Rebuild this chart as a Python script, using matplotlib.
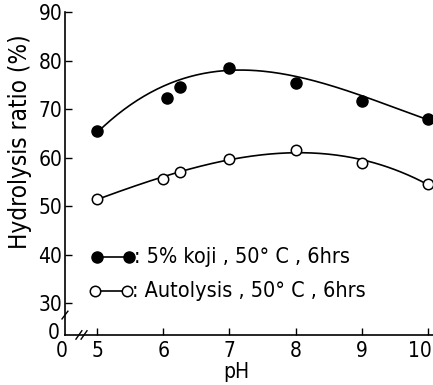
import numpy as np
import matplotlib
matplotlib.use("Agg")
import matplotlib.pyplot as plt
import matplotlib.transforms as mtransforms

# data
ph_koji = [5, 6.05, 6.25, 7, 8, 9, 10]
koji = [65.5, 72.3, 74.7, 78.6, 75.5, 71.8, 68.0]
ph_auto = [5, 6, 6.25, 7, 8, 9, 10]
auto = [51.6, 55.7, 57.1, 59.8, 61.6, 59.0, 54.7]

xticks = [5, 6, 7, 8, 9, 10]
yticks = [30, 40, 50, 60, 70, 80, 90]

plt.rcParams['font.family'] = ['DejaVu Sans']
plt.rcParams['font.stretch'] = 'condensed'

fig = plt.figure(figsize=(4.33, 3.85), dpi=100)
ax = fig.add_axes([0.150, 0.130, 0.85, 0.838])

x0, x1 = 4.51, 10.08
y0, y1 = 23.5, 90
ax.set_xlim(x0, x1)
ax.set_ylim(y0, y1)

# smooth trend curves fitted to the points
xs = np.linspace(5, 10, 200)
ck = np.polyfit(ph_koji, koji, 3, w=[2, 1, 1, 3, 1, 1, 2])
ca = np.polyfit(ph_auto, auto, 3)
ax.plot(xs, np.polyval(ck, xs), color='black', lw=1.2, zorder=2)
ax.plot(xs, np.polyval(ca, xs), color='black', lw=1.2, zorder=2)

ax.plot(ph_koji, koji, 'o', ms=8, color='black', zorder=3)
ax.plot(ph_auto, auto, 'o', ms=7.5, mfc='white', mec='black', mew=1.1, zorder=3)

# legend drawn inside the axes
ax.plot([5, 5.48], [39.6, 39.6], '-o', color='black', ms=8, lw=1.2)
ax.text(5.55, 39.6, ': 5% koji , 50° C , 6hrs', fontsize=15.5, va='center', ha='left')
ax.plot([4.97, 5.45], [32.6, 32.6], '-o', color='black', mfc='white', mew=1.1, ms=7.5, lw=1.2)
ax.text(5.52, 32.6, ': Autolysis , 50° C , 6hrs', fontsize=15.5, va='center', ha='left')

ax.spines['top'].set_visible(False)
ax.spines['right'].set_visible(False)
ax.spines['left'].set_linewidth(1.2)
ax.spines['bottom'].set_linewidth(1.2)

ax.set_xticks(xticks)
ax.set_yticks(yticks)
ax.tick_params(direction='in', length=5, width=1, labelsize=15)
ax.tick_params(axis='y', pad=2)
ax.tick_params(axis='x', pad=4)
# keep the last x label inside the figure
last = ax.get_xticklabels()[-1]
last.set_transform(last.get_transform() + mtransforms.ScaledTranslation(-8 / 100, 0, fig.dpi_scale_trans))

# origin labels
ax.text(-0.015, 0.005, '0', transform=ax.transAxes, fontsize=15, ha='right', va='center')
ax.text(-0.008, -0.018, '0', transform=ax.transAxes, fontsize=15, ha='center', va='top')

# axis break marks
bk = dict(color='black', lw=1, clip_on=False, transform=ax.transAxes)
yb = (27.6 - y0) / (y1 - y0)
ax.plot([-0.008, 0.008], [yb - 0.012, yb + 0.012], **bk)
xb = (4.76 - x0) / (x1 - x0)
for d in (-0.007, 0.007):
    ax.plot([xb + d - 0.008, xb + d + 0.008], [-0.013, 0.013], **bk)

ax.set_xlabel('pH', fontsize=15, labelpad=0)
ax.xaxis.set_label_coords(0.465, -0.085)
ax.set_ylabel('Hydrolysis ratio (%)', fontsize=17.5)
ax.yaxis.set_label_coords(-0.09, 0.6)

fig.savefig('out.png', dpi=100)
